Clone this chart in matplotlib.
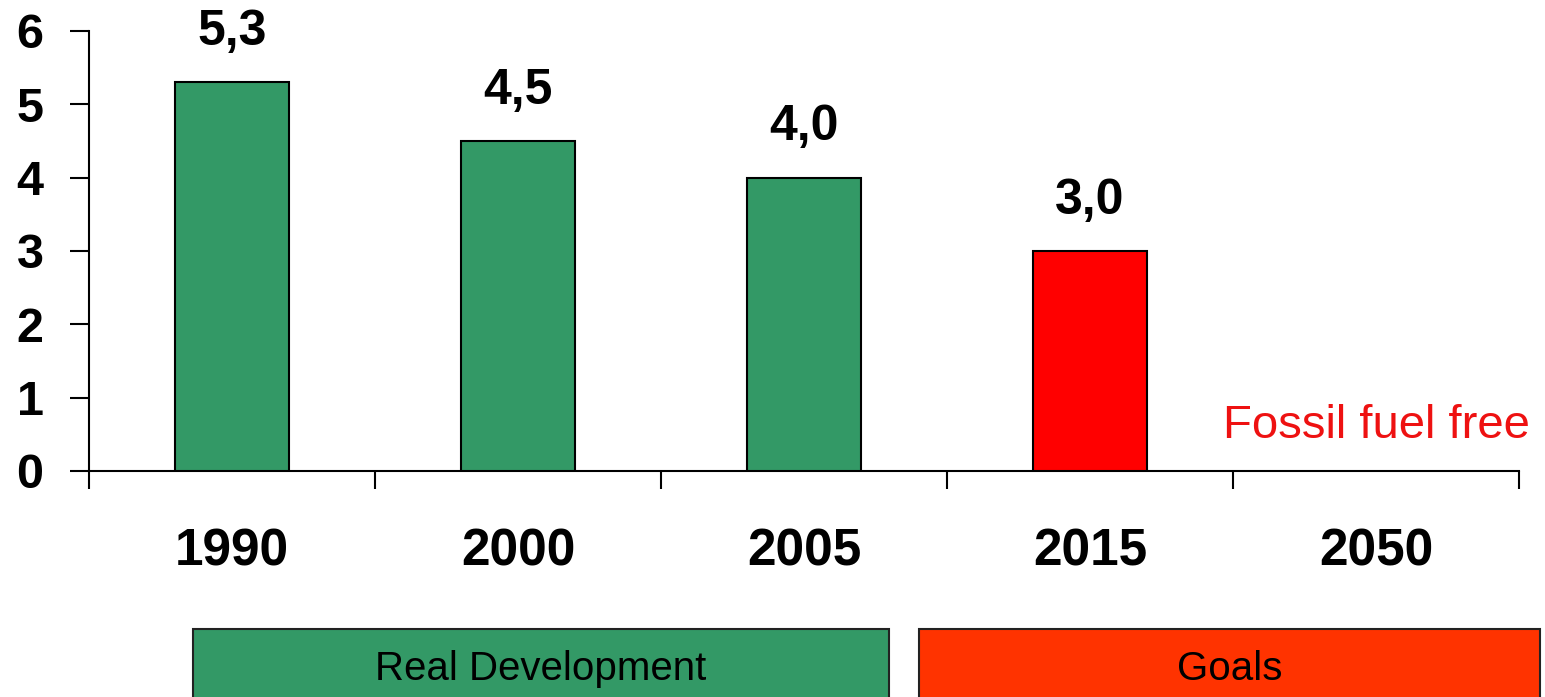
import matplotlib.pyplot as plt
from matplotlib.patches import Rectangle
from matplotlib.ticker import FixedLocator

plt.rcParams['font.family'] = ['Liberation Sans', 'DejaVu Sans']

# data
years = ['1990', '2000', '2005', '2015', '2050']
values = [5.3, 4.5, 4.0, 3.0]
value_labels = ['5,3', '4,5', '4,0', '3,0']
bar_colors = ['#339966', '#339966', '#339966', '#FF0000']
note_2050 = 'Fossil fuel free'
groups = ['Real Development', 'Goals']

fig = plt.figure(figsize=(15.45, 6.97), dpi=100)
ax = fig.add_axes([89 / 1545, 226 / 697, 1430 / 1545, 440 / 697])

x = list(range(len(values)))
ax.bar(x, values, width=0.40, color=bar_colors, edgecolor='black', linewidth=1.5, zorder=3)

for xi, v, lab in zip(x, values, value_labels):
    ax.text(xi, v + 0.51, lab, ha='center', va='baseline', fontsize=36, fontweight='bold')

ax.text(4, 0.45, note_2050, ha='center', va='baseline', fontsize=34, color='#EE1111')

ax.set_xlim(-0.5, 4.5)
ax.set_ylim(0, 6)
ax.set_yticks(range(7))
ax.tick_params(axis='y', length=13.7, width=1.5, pad=19, labelsize=35)
for t in ax.get_yticklabels():
    t.set_fontweight('bold')

# boundaries as major ticks, year labels on minor ticks
ax.xaxis.set_major_locator(FixedLocator([i - 0.5 for i in range(6)]))
ax.set_xticklabels([])
ax.xaxis.set_minor_locator(FixedLocator(range(5)))
ax.set_xticklabels(years, minor=True)
ax.tick_params(axis='x', which='major', length=13, width=1.5)
ax.tick_params(axis='x', which='minor', length=0, pad=41, labelsize=37)
for t in ax.get_xticklabels(minor=True):
    t.set_fontweight('bold')

for s in ['top', 'right']:
    ax.spines[s].set_visible(False)
for s in ['left', 'bottom']:
    ax.spines[s].set_linewidth(1.5)

# group boxes below the axis
W, H = 1545, 697
box_specs = [(193, 889, '#339966'), (919, 1540, '#FF3300')]
for (x0, x1, c), name in zip(box_specs, groups):
    r = Rectangle((x0 / W, -6 / H), (x1 - x0) / W, (68 + 6) / H, transform=fig.transFigure,
                  facecolor=c, edgecolor='#222222', linewidth=1.5)
    fig.add_artist(r)
    fig.text((x0 + x1) / 2 / W, 17 / H, name, ha='center', va='baseline', fontsize=29)

fig.savefig('out.png', dpi=100)
